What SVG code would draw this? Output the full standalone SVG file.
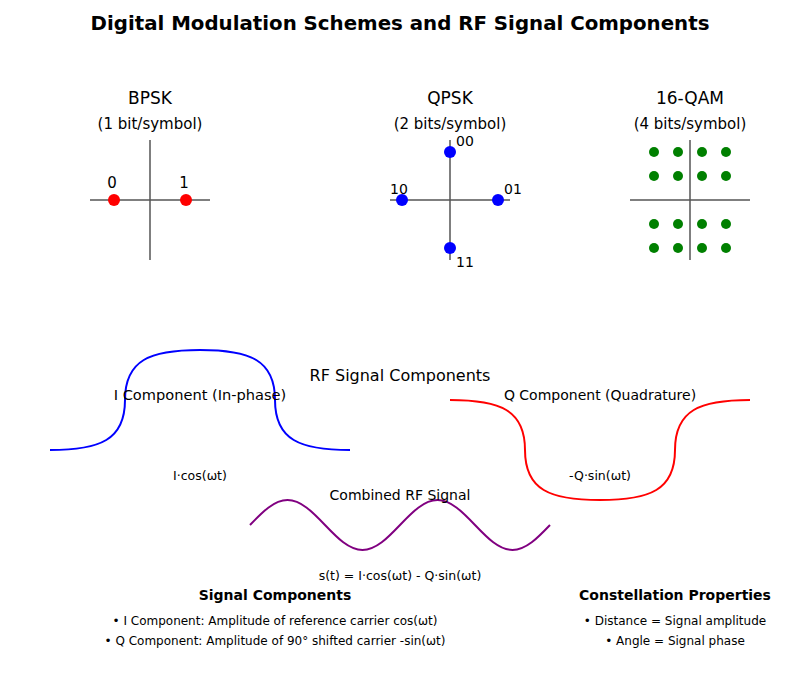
<svg xmlns="http://www.w3.org/2000/svg" width="800" height="700" viewBox="0 0 800 700">
<style>
text{font-family:"DejaVu Sans","Liberation Sans",sans-serif;fill:#000;text-anchor:middle}
.title{font-size:19.8px;font-weight:bold}
.h{font-size:17px}
.rf{font-size:16px}
.sub{font-size:15px}
.cap{font-size:14px}
.lbl{font-size:14px;text-anchor:start}
.sm{font-size:12.5px}
.bl{font-size:12px}
.b{font-size:14px;font-weight:bold}
.axis{stroke:#555;stroke-width:1.5;fill:none}
.wave{fill:none;stroke-width:2}
</style>
<rect width="800" height="700" fill="#fff"/>
<text class="title" x="400" y="30">Digital Modulation Schemes and RF Signal Components</text>

<g id="bpsk">
<text class="h" x="150" y="104">BPSK</text>
<text class="sub" x="150" y="129">(1 bit/symbol)</text>
<line class="axis" x1="90" y1="200" x2="210" y2="200"/>
<line class="axis" x1="150" y1="140" x2="150" y2="260"/>
<circle cx="114" cy="200" r="6" fill="red"/>
<circle cx="186" cy="200" r="6" fill="red"/>
<text class="sub" x="112" y="188">0</text>
<text class="sub" x="184" y="188">1</text>
</g>

<g id="qpsk">
<text class="h" x="450" y="104">QPSK</text>
<text class="sub" x="450" y="129">(2 bits/symbol)</text>
<line class="axis" x1="390" y1="200" x2="510" y2="200"/>
<line class="axis" x1="450" y1="140" x2="450" y2="260"/>
<circle cx="450" cy="152" r="6" fill="blue"/>
<circle cx="402" cy="200" r="6" fill="blue"/>
<circle cx="498" cy="200" r="6" fill="blue"/>
<circle cx="450" cy="248" r="6" fill="blue"/>
<text class="lbl" x="456" y="146">00</text>
<text class="lbl" x="390" y="194">10</text>
<text class="lbl" x="504" y="194">01</text>
<text class="lbl" x="456" y="267">11</text>
</g>

<g id="qam16">
<text class="h" x="690" y="104">16-QAM</text>
<text class="sub" x="690" y="129">(4 bits/symbol)</text>
<line class="axis" x1="630" y1="200" x2="750" y2="200"/>
<line class="axis" x1="690" y1="140" x2="690" y2="260"/>
<g fill="green">
<circle cx="654" cy="152" r="5"/><circle cx="678" cy="152" r="5"/><circle cx="702" cy="152" r="5"/><circle cx="726" cy="152" r="5"/>
<circle cx="654" cy="176" r="5"/><circle cx="678" cy="176" r="5"/><circle cx="702" cy="176" r="5"/><circle cx="726" cy="176" r="5"/>
<circle cx="654" cy="224" r="5"/><circle cx="678" cy="224" r="5"/><circle cx="702" cy="224" r="5"/><circle cx="726" cy="224" r="5"/>
<circle cx="654" cy="248" r="5"/><circle cx="678" cy="248" r="5"/><circle cx="702" cy="248" r="5"/><circle cx="726" cy="248" r="5"/>
</g>
</g>

<text class="rf" x="400" y="381">RF Signal Components</text>

<g id="i-component">
<path class="wave" stroke="blue" d="M50,450 C100,450 125,440 125,400 C125,360 150,350 200,350 C250,350 275,360 275,400 C275,440 300,450 350,450"/>
<text class="cap" x="200" y="400" style="font-size:14.6px">I Component (In-phase)</text>
<text class="sm" x="200" y="480">I·cos(ωt)</text>
</g>

<g id="q-component">
<path class="wave" stroke="red" d="M450,400 C500,400 525,410 525,450 C525,490 550,500 600,500 C650,500 675,490 675,450 C675,410 700,400 750,400"/>
<text class="cap" x="600" y="400">Q Component (Quadrature)</text>
<text class="sm" x="600" y="480">-Q·sin(ωt)</text>
</g>

<g id="combined">
<path class="wave" stroke="purple" d="M250,525 C262.23,512.19 273.99,500 287.5,500 S312.77,512.19 325,525 S348.99,550 362.5,550 S387.77,537.81 400,525 S423.99,500 437.5,500 S462.77,512.19 475,525 S498.99,550 512.5,550 S537.77,537.81 550,525"/>
<text class="cap" x="400" y="500">Combined RF Signal</text>
<text class="sm" x="400" y="580">s(t) = I·cos(ωt) - Q·sin(ωt)</text>
</g>

<g id="signal-components">
<text class="b" x="275" y="600">Signal Components</text>
<text class="bl" x="275" y="625">• I Component: Amplitude of reference carrier cos(ωt)</text>
<text class="bl" x="275" y="645">• Q Component: Amplitude of 90° shifted carrier -sin(ωt)</text>
</g>

<g id="constellation-properties">
<text class="b" x="675" y="600">Constellation Properties</text>
<text class="bl" x="675" y="625">• Distance = Signal amplitude</text>
<text class="bl" x="675" y="645">• Angle = Signal phase</text>
</g>
</svg>
